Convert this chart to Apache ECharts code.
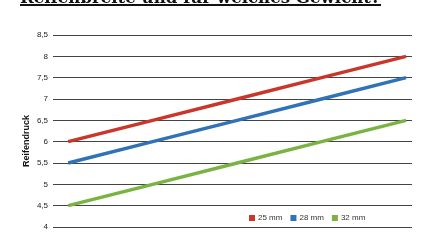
<!DOCTYPE html>
<html><head><meta charset="utf-8">
<script src="https://cdn.jsdelivr.net/npm/echarts@6/dist/echarts.min.js"></script>
<style>html,body{margin:0;padding:0;background:#fff}#c{width:430px;height:241px}</style>
</head><body><div id="c"></div>
<script>
const titleText = 'Reifenbreite und für welches Gewicht?';
const yAxisName = 'Reifendruck';
const weights = [60, 70, 80, 90, 100];
const seriesNames = ['25 mm', '28 mm', '32 mm'];
const values25 = [6.0, 6.5, 7.0, 7.5, 8.0];
const values28 = [5.5, 6.0, 6.5, 7.0, 7.5];
const values32 = [4.5, 5.0, 5.5, 6.0, 6.5];
const colors = ['#c8372a', '#2f72b8', '#7ab342'];

// fit title font to target width
const ctx = document.createElement('canvas').getContext('2d');
ctx.font = 'bold 20px "DejaVu Serif"';
const w20 = ctx.measureText(titleText).width;
const tSize = Math.round(20 * 361 / w20 * 10) / 10;

const chart = echarts.init(document.getElementById('c'), null, {renderer: 'canvas'});
const mk = (arr) => weights.map((w, i) => [w, arr[i]]);
chart.setOption({
  animation: false,
  grid: {left: 53, right: 18, top: 35, bottom: 14},
  graphic: [
    {type: 'text', x: 20, y: -10, style: {text: titleText, font: 'bold ' + tSize + 'px "DejaVu Serif"', fill: '#111'}},
    {type: 'rect', shape: {x: 20, y: 4, width: 361, height: 2}, style: {fill: '#111'}},
    {type: 'text', x: 27, y: 141, rotation: Math.PI / 2,
     style: {text: yAxisName, font: 'bold 9px "Liberation Sans"', fill: '#111', align: 'center', verticalAlign: 'middle'}}
  ],
  legend: {
    data: seriesNames, left: 244, top: 209, itemWidth: 6, itemHeight: 6, itemGap: 8,
    icon: 'rect', textStyle: {fontSize: 8, color: '#333', fontFamily: 'Liberation Sans', padding: [0,0,0,-2]}
  },
  xAxis: {type: 'value', min: 58.2, max: 100.7, show: false},
  yAxis: {
    type: 'value', min: 4, max: 8.5, interval: 0.5,
    axisLine: {show: false}, axisTick: {show: false},
    axisLabel: {fontSize: 8, color: '#222', margin: 5, formatter: v => String(v).replace('.', ','), fontFamily: 'Liberation Sans'},
    splitLine: {lineStyle: {color: '#444', width: 1}}
  },
  series: seriesNames.map((n, i) => ({
    name: n, type: 'line', data: mk([values25, values28, values32][i]), symbol: 'none',
    lineStyle: {width: 3.5, color: colors[i]}, itemStyle: {color: colors[i]}
  }))
});
</script></body></html>
